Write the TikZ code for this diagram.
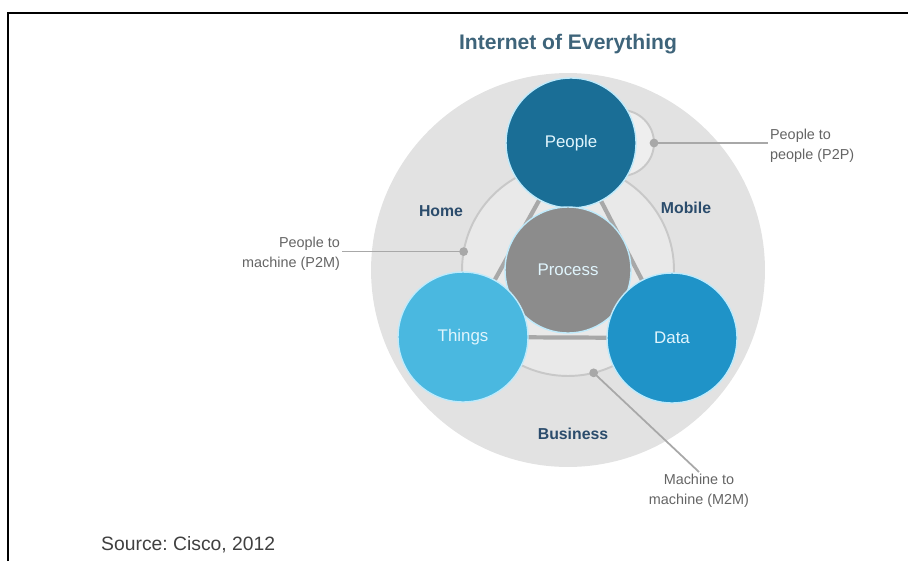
\documentclass[tikz,border=0pt]{standalone}
\usepackage{fontspec}
\setmainfont{Liberation Sans}
\frenchspacing
\usetikzlibrary{calc}

\definecolor{outergrey}{RGB}{226,226,226}
\definecolor{innergrey}{RGB}{233,233,233}
\definecolor{lensgrey}{RGB}{238,238,238}
\definecolor{ringgrey}{RGB}{200,200,200}
\definecolor{linkgrey}{RGB}{168,168,168}
\definecolor{peopleblue}{RGB}{26,110,150}
\definecolor{processgrey}{RGB}{140,140,140}
\definecolor{thingsblue}{RGB}{74,184,224}
\definecolor{datablue}{RGB}{31,147,200}
\definecolor{labelblue}{RGB}{43,76,108}
\definecolor{titleblue}{RGB}{62,100,122}
\definecolor{notegrey}{RGB}{100,100,100}

\tikzset{
  bubble/.style={circle, minimum size=2.6cm, inner sep=0pt, draw=white!75!cyan,
    line width=0.8pt, text=white!88!cyan, font=\fontsize{9.6}{11}\selectfont},
  area/.style={text=labelblue, font=\bfseries\fontsize{9}{11}\selectfont},
  note/.style={text=notegrey, align=left, inner sep=1pt,
    font=\fontsize{8.2}{11.4}\selectfont},
  leader/.style={draw=linkgrey, line width=1pt},
  linkdot/.style={fill=linkgrey, draw=none},
}

\begin{document}
\begin{tikzpicture}[x=0.02cm, y=-0.02cm]
			%%%%% START %%%%%
			\useasboundingbox (0,0) rectangle (908,561);
			
			\draw[line width=1.7pt] (8,561) -- (8,13) -- (908,13);
			
			\node[text=titleblue, font=\bfseries\fontsize{12}{14}\selectfont] (title) at (568,44) {Internet of Everything};
			
			\coordinate (cpeople) at (571,143);
			\coordinate (cprocess) at (568,270);
			\coordinate (cthings) at (463,337);
			\coordinate (cdata) at (672,338);
			\coordinate (clens) at (621,143);
			
			\fill[outergrey] (cprocess) circle[radius=3.94cm];
			\draw[ringgrey, line width=1.1pt, fill=innergrey] (cprocess) circle[radius=2.12cm];
			\draw[ringgrey, line width=1.1pt, fill=lensgrey] (clens) circle[radius=0.66cm];
			
			\draw[linkgrey, line width=2.4pt] (cpeople) -- (cthings) -- (cdata) -- cycle;
			
			\node[bubble, fill=peopleblue] (people) at (cpeople) {People};
			\node[bubble, fill=processgrey, minimum size=2.52cm] (process) at (cprocess) {Process};
			\node[bubble, fill=thingsblue] (things) at (cthings) {Things};
			\node[bubble, fill=datablue] (data) at (cdata) {Data};
			
			\node[area] (home) at (441,211) {Home};
			\node[area] (mobile) at (686,208) {Mobile};
			\node[area] (business) at (573,434) {Business};
			
			% connection points
			\coordinate (p2pdot) at ($(clens)+(0:0.66cm)$);
			\coordinate (p2mdot) at ($(cprocess)+(170:2.12cm)$);
			\coordinate (m2mdot) at ($(cprocess)+(-76:2.12cm)$);
			
			\node[note, anchor=west] (p2ptext) at (768,146) {People to\\people (P2P)};
			\node[note, anchor=east, align=right] (p2mtext) at (342,254) {People to\\machine (P2M)};
			\node[note, anchor=north, align=center] (m2mtext) at (699,472) {Machine to\\machine (M2M)};
			
			\draw[leader] (p2pdot) -- (p2pdot -| p2ptext.west);
			\draw[leader] (p2mdot) -- (p2mdot -| p2mtext.east);
			\draw[leader] (m2mdot) -- (m2mtext.north);
			
			\fill[linkdot] (p2pdot) circle[radius=2.5pt];
			\fill[linkdot] (p2mdot) circle[radius=2.5pt];
			\fill[linkdot] (m2mdot) circle[radius=2.5pt];
			
			\node[anchor=west, text=black!75, font=\fontsize{11}{13}\selectfont] (source) at (95,545) {Source: Cisco, 2012};
			
			%%%%% END %%%%%
\end{tikzpicture}
\end{document}
